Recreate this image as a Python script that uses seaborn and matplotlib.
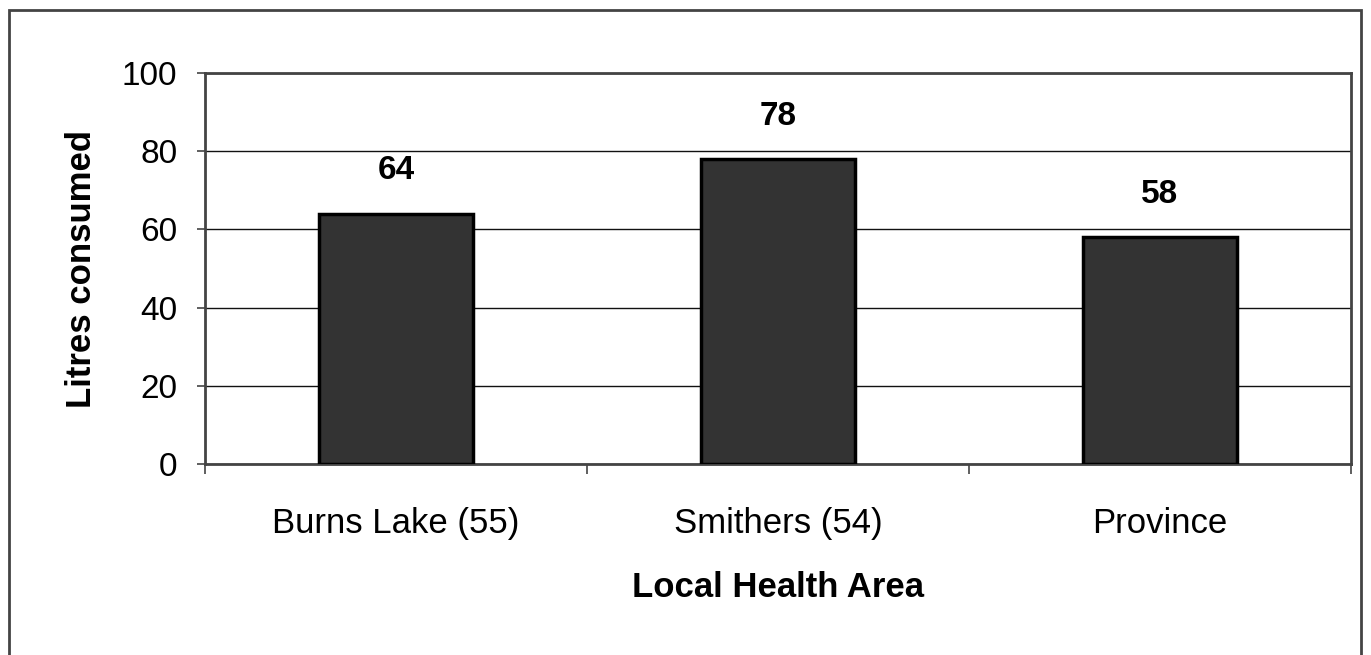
import pandas as pd
import seaborn as sns
import matplotlib.pyplot as plt
from matplotlib.patches import Rectangle
from matplotlib.ticker import FixedLocator

# data
areas = ["Burns Lake (55)", "Smithers (54)", "Province"]
litres = [64, 78, 58]
value_labels = ["64", "78", "58"]

df = pd.DataFrame({"area": areas, "litres": litres})

sns.set_style("white")
plt.rcParams['font.family'] = ['Liberation Sans', 'DejaVu Sans']
plt.rcParams['text.color'] = "black"
plt.rcParams['axes.labelcolor'] = "black"
plt.rcParams['xtick.color'] = "black"
plt.rcParams['ytick.color'] = "black"

fig = plt.figure(figsize=(13.71, 6.55), dpi=100)
ax = fig.add_axes([0.1495, 0.2916, 0.9854 - 0.1495, 0.8885 - 0.2916])

sns.barplot(data=df, x="area", y="litres", color="#333333", saturation=1,
            width=0.405, edgecolor="black", linewidth=2.5, ax=ax, zorder=3)

ax.set_ylim(0, 100)
ax.set_xlim(-0.5, 2.5)
ax.set_yticks([0, 20, 40, 60, 80, 100])
ax.yaxis.grid(True, color="#111111", linewidth=1)
ax.set_axisbelow(True)

for sp in ax.spines.values():
    sp.set_color("#444444")
    sp.set_linewidth(2)

ax.tick_params(axis="y", labelsize=24, length=6, width=1.2, color="#444444",
               direction="out", left=True, pad=14)
# x ticks at category boundaries, labels centred
ax.xaxis.set_major_locator(FixedLocator([-0.5, 0.5, 1.5, 2.5]))
ax.set_xticklabels([])
ax.xaxis.set_minor_locator(FixedLocator([0, 1, 2]))
ax.set_xticklabels(areas, minor=True)
ax.tick_params(axis="x", which="major", length=7, width=1.2, color="#444444",
               direction="out", bottom=True)
ax.tick_params(axis="x", which="minor", length=0, labelsize=25, pad=31)

for i, v in enumerate(litres):
    ax.text(i, v + 11, value_labels[i], ha="center", va="center",
            fontsize=24, fontweight="bold")

ax.set_xlabel("Local Health Area", fontsize=25, fontweight="bold", labelpad=22)
ax.set_ylabel("Litres consumed", fontsize=25, fontweight="bold", labelpad=17)

# outer border
fig.patches.append(Rectangle((9 / 1371, -0.01), (1361 - 9) / 1371, 1 - 10 / 655 + 0.01,
                             transform=fig.transFigure, fill=False,
                             edgecolor="#444444", linewidth=2))

fig.savefig("out.png", dpi=100)
